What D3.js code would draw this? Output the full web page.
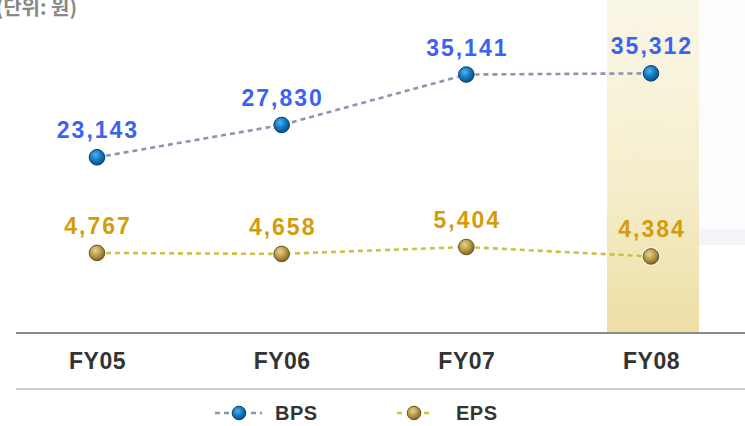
<!DOCTYPE html>
<html>
<head>
<meta charset="utf-8">
<script src="https://cdn.jsdelivr.net/npm/d3@7/dist/d3.min.js"></script>
<style>
  html, body { margin: 0; padding: 0; background: #ffffff; }
  svg { display: block; }
  text { font-family: "Liberation Sans", Arial, Helvetica, sans-serif; font-weight: bold; }
</style>
</head>
<body>
<svg id="chart" width="745" height="426"></svg>
<script>
// Fiscal years and per-share figures (KRW)
const categories = ["FY05", "FY06", "FY07", "FY08"];
const bpsValues = [23143, 27830, 35141, 35312];
const epsValues = [4767, 4658, 5404, 4384];
const seriesNames = ["BPS", "EPS"];
const unitLabel = "(단위: 원)";
const highlightYear = "FY08";

const W = 745, H = 426;
const axisY = 333, baseY = 389;

const svg = d3.select("#chart");
const defs = svg.append("defs");

// Gradients
const band = defs.append("linearGradient").attr("id", "band").attr("x1", 0).attr("y1", 0).attr("x2", 0).attr("y2", 1);
band.append("stop").attr("offset", "0%").attr("stop-color", "#faf6e4");
band.append("stop").attr("offset", "55%").attr("stop-color", "#f5edc8");
band.append("stop").attr("offset", "100%").attr("stop-color", "#eadb9c");

const glow = defs.append("linearGradient").attr("id", "glow").attr("x1", 0).attr("y1", 0).attr("x2", 1).attr("y2", 0);
glow.append("stop").attr("offset", "0%").attr("stop-color", "#f2f4f7");
glow.append("stop").attr("offset", "30%").attr("stop-color", "#fbfcfd");
glow.append("stop").attr("offset", "100%").attr("stop-color", "#fdfdfe");

const blueBall = defs.append("radialGradient").attr("id", "blueBall").attr("cx", "40%").attr("cy", "35%").attr("r", "65%");
blueBall.append("stop").attr("offset", "0%").attr("stop-color", "#4fb4ee");
blueBall.append("stop").attr("offset", "55%").attr("stop-color", "#1478c0");
blueBall.append("stop").attr("offset", "100%").attr("stop-color", "#0a4e88");

const goldBall = defs.append("radialGradient").attr("id", "goldBall").attr("cx", "40%").attr("cy", "35%").attr("r", "65%");
goldBall.append("stop").attr("offset", "0%").attr("stop-color", "#e6d590");
goldBall.append("stop").attr("offset", "55%").attr("stop-color", "#b89a48");
goldBall.append("stop").attr("offset", "100%").attr("stop-color", "#7e6428");

// Scales
const x = d3.scalePoint().domain(categories).range([97, 651]);
const yBps = d3.scaleLinear().domain([0, 40000]).range([317, 41]);
const yEps = d3.scaleLinear().domain([0, 6000]).range([297, 241.5]);

// Soft background shape on the right
const bg = svg.append("g");
bg.append("path")
  .attr("d", "M636,0 C624,60 624,150 650,232 L745,232 L745,0 Z")
  .attr("fill", "url(#glow)");
bg.append("path")
  .attr("d", "M636,0 C624,60 624,150 650,232")
  .attr("fill", "none").attr("stroke", "#eceef1").attr("stroke-width", 2);
bg.append("rect").attr("x", 698).attr("y", 229).attr("width", 47).attr("height", 16)
  .attr("fill", "#f2f4f8");

// Highlight band behind the latest year
const bw = 92;
svg.append("rect")
  .attr("x", x(highlightYear) - bw / 2 + 2).attr("y", 0)
  .attr("width", bw).attr("height", axisY)
  .attr("fill", "url(#band)").attr("opacity", 0.92);

// Unit label (runs off the left edge)
svg.append("text")
  .attr("x", 77).attr("y", 15)
  .attr("text-anchor", "end")
  .style("font-family", "'Noto Sans CJK KR', sans-serif")
  .attr("font-size", 20)
  .attr("fill", "#888888")
  .text(unitLabel);

// Axis lines
svg.append("line").attr("x1", 16).attr("x2", W).attr("y1", axisY).attr("y2", axisY)
  .attr("stroke", "#8a8a8a").attr("stroke-width", 2);
svg.append("line").attr("x1", 16).attr("x2", W).attr("y1", baseY).attr("y2", baseY)
  .attr("stroke", "#9a9a9a").attr("stroke-width", 1.2);

// Category labels via axis
const xAxis = d3.axisBottom(x).tickSize(0).tickPadding(0);
const ax = svg.append("g").attr("transform", `translate(0,${axisY})`).call(xAxis);
ax.select(".domain").remove();
ax.selectAll("text")
  .attr("y", 36).attr("dy", 0)
  .attr("font-size", 23)
  .attr("fill", "#333333")
  .style("font-family", "'Liberation Sans', Arial, sans-serif")
  .style("font-weight", "bold")
  .style("letter-spacing", "0.5px");

// Series
const series = [
  { name: seriesNames[0], values: bpsValues, y: yBps, line: "#8a95b0", label: "#3b63f2", ball: "url(#blueBall)", edge: "#0b3d66" },
  { name: seriesNames[1], values: epsValues, y: yEps, line: "#c9c247", label: "#d49c0a", ball: "url(#goldBall)", edge: "#6c5620" }
];

const fmt = d3.format(",");

series.forEach(s => {
  const pts = categories.map((c, i) => ({ c, v: s.values[i] }));
  const lineGen = d3.line().x(d => x(d.c)).y(d => s.y(d.v));
  svg.append("path")
    .datum(pts)
    .attr("d", lineGen)
    .attr("fill", "none")
    .attr("stroke", s.line)
    .attr("stroke-width", 2.6)
    .attr("stroke-dasharray", "5,4");

  const g = svg.append("g");
  g.selectAll("circle.halo").data(pts).enter().append("circle")
    .attr("cx", d => x(d.c)).attr("cy", d => s.y(d.v)).attr("r", 9.5)
    .attr("fill", "#ffffff").attr("opacity", 0.5);
  g.selectAll("circle.dot").data(pts).enter().append("circle")
    .attr("cx", d => x(d.c)).attr("cy", d => s.y(d.v)).attr("r", 7.8)
    .attr("fill", s.ball).attr("stroke", s.edge).attr("stroke-width", 1);

  svg.selectAll(null).data(pts).enter().append("text")
    .attr("x", d => x(d.c) + 1).attr("y", d => s.y(d.v) - 19)
    .attr("text-anchor", "middle")
    .attr("font-size", 23)
    .style("letter-spacing", "2px")
    .attr("fill", s.label)
    .text(d => fmt(d.v));
});

// Legend
const legend = [
  { s: series[0], x0: 215, x1: 262, cx: 239, tx: 275 },
  { s: series[1], x0: 397, x1: 432, cx: 414, tx: 456 }
];
const ly = 413;
legend.forEach(l => {
  svg.append("line").attr("x1", l.x0).attr("x2", l.x1).attr("y1", ly).attr("y2", ly)
    .attr("stroke", l.s.line).attr("stroke-width", 2.4).attr("stroke-dasharray", "5,4");
  svg.append("circle").attr("cx", l.cx).attr("cy", ly).attr("r", 9).attr("fill", "#ffffff");
  svg.append("circle").attr("cx", l.cx).attr("cy", ly).attr("r", 6.8)
    .attr("fill", l.s.ball).attr("stroke", l.s.edge).attr("stroke-width", 1);
  svg.append("text").attr("x", l.tx).attr("y", ly + 7)
    .attr("font-size", 20).attr("fill", "#333333")
    .style("letter-spacing", "0.5px")
    .text(l.s.name);
});
</script>
</body>
</html>
